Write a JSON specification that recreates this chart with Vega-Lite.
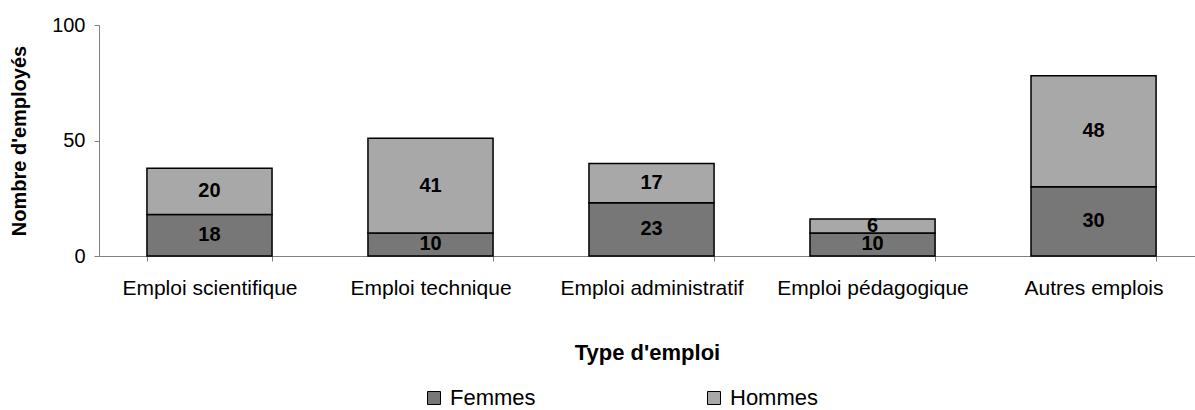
{
  "$schema": "https://vega.github.io/schema/vega-lite/v6.json",
  "width": 1096,
  "height": 231,
  "autosize": {"type": "none"},
  "padding": {"left": 99, "top": 25, "right": 0, "bottom": 154},
  "background": "white",
  "config": {
    "view": {"stroke": null},
    "font": "Liberation Sans"
  },
  "data": {
    "values": [
      {"emploi": "Emploi scientifique", "sexe": "Femmes", "nombre": 18},
      {"emploi": "Emploi scientifique", "sexe": "Hommes", "nombre": 20},
      {"emploi": "Emploi technique", "sexe": "Femmes", "nombre": 10},
      {"emploi": "Emploi technique", "sexe": "Hommes", "nombre": 41},
      {"emploi": "Emploi administratif", "sexe": "Femmes", "nombre": 23},
      {"emploi": "Emploi administratif", "sexe": "Hommes", "nombre": 17},
      {"emploi": "Emploi pédagogique", "sexe": "Femmes", "nombre": 10},
      {"emploi": "Emploi pédagogique", "sexe": "Hommes", "nombre": 6},
      {"emploi": "Autres emplois", "sexe": "Femmes", "nombre": 30},
      {"emploi": "Autres emplois", "sexe": "Hommes", "nombre": 48}
    ]
  },
  "encoding": {
    "x": {
      "field": "emploi",
      "type": "nominal",
      "sort": null,
      "scale": {"paddingInner": 0.434, "paddingOuter": 0.1965, "align": 0.552},
      "axis": {
        "title": "Type d'emploi",
        "titleFontSize": 22,
        "titleFontWeight": "bold",
        "titleColor": "black",
        "titlePadding": 44,
        "labelAngle": 0,
        "labelFontSize": 21,
        "labelColor": "black",
        "labelPadding": 16,
        "labelLimit": 400,
        "tickBand": "extent",
        "tickSize": 5,
        "tickColor": "#808080",
        "domainColor": "#808080",
        "grid": false
      }
    },
    "y": {
      "field": "nombre",
      "type": "quantitative",
      "stack": "zero",
      "scale": {"domain": [0, 100], "nice": false},
      "axis": {
        "title": "Nombre d'employés",
        "titleFontSize": 20,
        "titleFontWeight": "bold",
        "titleColor": "black",
        "titlePadding": 22,
        "values": [0, 50, 100],
        "labelFontSize": 20,
        "labelColor": "black",
        "labelPadding": 9,
        "tickSize": 5,
        "tickColor": "#808080",
        "domainColor": "#808080",
        "grid": false
      }
    }
  },
  "layer": [
    {
      "mark": {"type": "bar", "stroke": "black", "strokeWidth": 1.5},
      "encoding": {
        "color": {
          "field": "sexe",
          "type": "nominal",
          "scale": {"domain": ["Femmes", "Hommes"], "range": ["#777777", "#a8a8a8"]},
          "legend": {
            "title": null,
            "orient": "none",
            "legendX": 324,
            "legendY": 362,
            "direction": "horizontal",
            "columns": 2,
            "columnPadding": 167,
            "symbolType": "square",
            "symbolSize": 169,
            "symbolStrokeColor": "black",
            "symbolStrokeWidth": 1,
            "labelFontSize": 22,
            "labelColor": "black",
            "labelOffset": 5
          }
        },
        "order": {"field": "sexe", "sort": "ascending"}
      }
    },
    {
      "mark": {"type": "text", "fontSize": 20, "fontWeight": "bold", "color": "black", "baseline": "middle"},
      "encoding": {
        "y": {"field": "nombre", "type": "quantitative", "stack": "zero", "bandPosition": 0.5},
        "text": {"field": "nombre", "type": "quantitative"},
        "detail": {"field": "sexe"},
        "order": {"field": "sexe", "sort": "ascending"}
      }
    }
  ]
}
